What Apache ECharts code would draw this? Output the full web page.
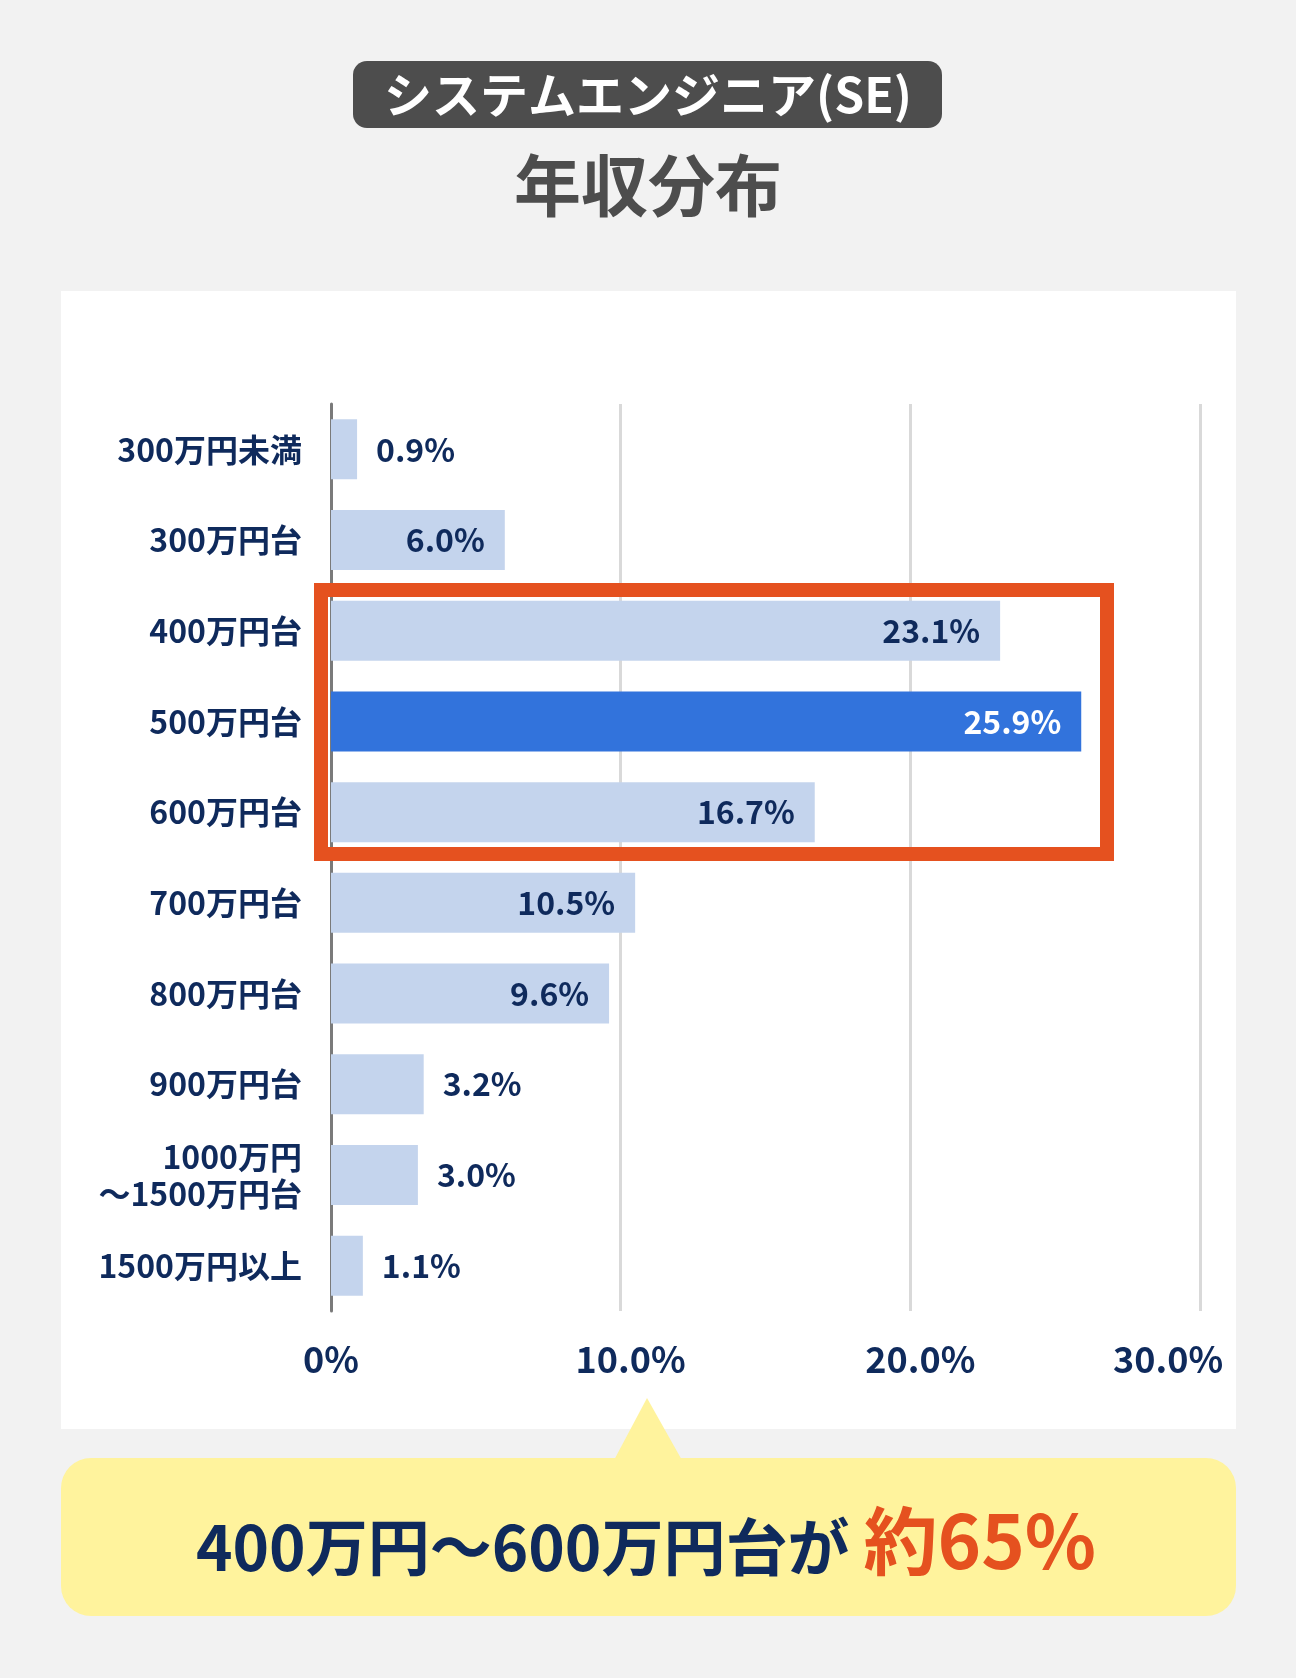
<!DOCTYPE html>
<html>
<head>
<meta charset="utf-8">
<script src="https://cdn.jsdelivr.net/npm/echarts@6/dist/echarts.min.js"></script>
<style>
html,body{margin:0;padding:0;background:#f2f2f2;}
#chart{width:1296px;height:1678px;}
</style>
</head>
<body>
<div id="chart"></div>
<script>
// ---- data ----
const categories = ['300万円未満','300万円台','400万円台','500万円台','600万円台','700万円台','800万円台','900万円台','1000万円\n〜1500万円台','1500万円以上'];
const values = [0.9, 6.0, 23.1, 25.9, 16.7, 10.5, 9.6, 3.2, 3.0, 1.1];
const highlightCategory = '500万円台';
const xTicks = [0, 10, 20, 30];
const titleTop = 'システムエンジニア(SE)';
const titleMain = '年収分布';
const calloutLead = '400万円〜600万円台が ';
const calloutEmph = '約65%';

// ---- style ----
const FONT = '"Noto Sans CJK JP", "Noto Sans", sans-serif';
const NAVY = '#0f2a5c';
const LIGHT = '#c4d4ed';
const BLUE = '#3273dc';
const ORANGE = '#e5511f';

const chart = echarts.init(document.getElementById('chart'), null, {renderer: 'canvas'});

const seriesData = values.map((v, i) => {
  const hi = categories[i] === highlightCategory;
  const inside = v >= 5;
  return {
    value: v,
    itemStyle: {color: hi ? BLUE : LIGHT},
    label: {
      position: inside ? 'insideRight' : 'right',
      distance: inside ? 20 : 19,
      color: hi ? '#ffffff' : NAVY
    }
  };
});

chart.setOption({
  backgroundColor: '#f2f2f2',
  animation: false,
  textStyle: {fontFamily: FONT},
  grid: {left: 331, right: 96, top: 404, bottom: 367, containLabel: false},
  xAxis: {
    type: 'value',
    min: xTicks[0],
    max: xTicks[xTicks.length - 1],
    interval: 10,
    axisLine: {show: false},
    axisTick: {show: false},
    splitLine: {show: true, lineStyle: {color: '#d9d9d9', width: 3}},
    axisLabel: {
      margin: 30,
      formatter: function (v) {
        if (v === 0) return '{z|0%}';
        if (v === xTicks[xTicks.length - 1]) return '{e|' + v.toFixed(1) + '%}';
        return '{m|' + v.toFixed(1) + '%}';
      },
      rich: {
        z: {fontSize: 36, fontWeight: 'bold', color: NAVY, fontFamily: FONT},
        m: {fontSize: 36, fontWeight: 'bold', color: NAVY, fontFamily: FONT, padding: [0, 0, 0, 20]},
        e: {fontSize: 36, fontWeight: 'bold', color: NAVY, fontFamily: FONT, padding: [0, 64, 0, 0]}
      }
    }
  },
  yAxis: {
    type: 'category',
    data: categories,
    inverse: true,
    axisLine: {show: true, lineStyle: {color: '#7a7a7a', width: 3}},
    axisTick: {show: false},
    axisLabel: {
      margin: 29,
      fontSize: 32,
      fontWeight: 'bold',
      color: NAVY,
      lineHeight: 37,
      align: 'right',
      fontFamily: FONT
    }
  },
  series: [{
    type: 'bar',
    data: seriesData,
    barWidth: 60,
    z: 3,
    label: {
      show: true,
      fontSize: 32,
      fontWeight: 'bold',
      fontFamily: FONT,
      formatter: p => p.value.toFixed(1) + '%'
    }
  }],
  graphic: [
    // white panel
    {type: 'rect', z: -10, shape: {x: 61, y: 291, width: 1175, height: 1138}, style: {fill: '#ffffff'}},
    // title pill
    {type: 'rect', z: 5, shape: {x: 353, y: 61, width: 589, height: 67, r: 14}, style: {fill: '#4d4d4d'}},
    {type: 'text', z: 6, x: 648, y: 95, style: {text: titleTop, fill: '#ffffff', font: 'bold 48px ' + FONT, textAlign: 'center', textVerticalAlign: 'middle'}},
    {type: 'text', z: 6, x: 648, y: 186, style: {text: titleMain, fill: '#4d4d4d', font: 'bold 67px ' + FONT, textAlign: 'center', textVerticalAlign: 'middle'}},
    // orange highlight box
    {type: 'rect', z: 20, shape: {x: 321, y: 590, width: 786, height: 264}, style: {fill: 'none', stroke: ORANGE, lineWidth: 14}},
    // callout
    {type: 'polygon', z: 20, shape: {points: [[613, 1462], [647, 1398], [683, 1462]]}, style: {fill: '#fff39d'}},
    {type: 'rect', z: 20, shape: {x: 61, y: 1458, width: 1175, height: 158, r: 30}, style: {fill: '#fff39d'}},
    {type: 'text', z: 21, x: 646, y: 1541, style: {
      text: '{a|' + calloutLead + '}{b|' + calloutEmph + '}',
      textAlign: 'center', textVerticalAlign: 'middle',
      rich: {
        a: {fontSize: 62, fontWeight: 'bold', fill: NAVY, color: NAVY, fontFamily: FONT, verticalAlign: 'bottom'},
        b: {fontSize: 74, fontWeight: 'bold', fill: ORANGE, color: ORANGE, fontFamily: FONT, verticalAlign: 'bottom'}
      }
    }}
  ]
});
</script>
</body>
</html>
